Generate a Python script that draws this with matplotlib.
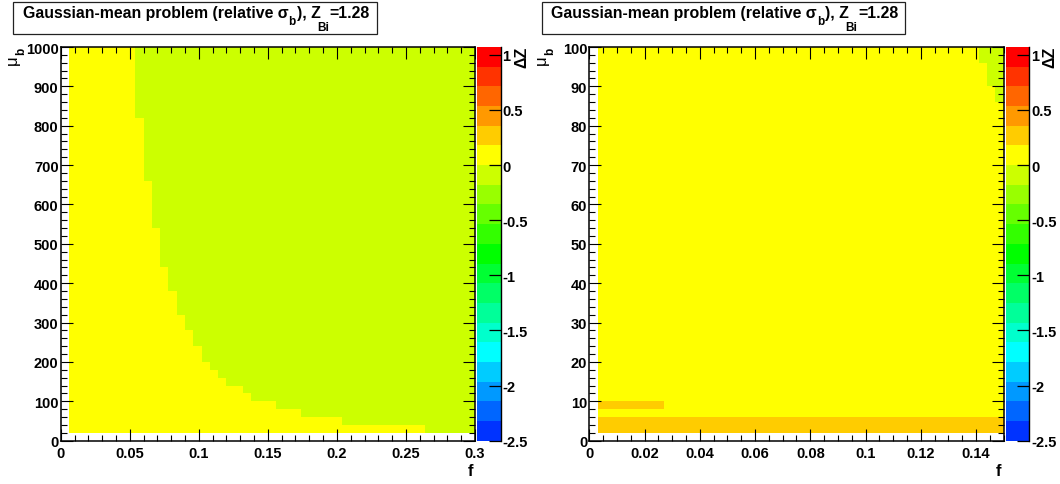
import numpy as np
import matplotlib
matplotlib.use("Agg")
import matplotlib.pyplot as plt
from matplotlib.colors import ListedColormap, BoundaryNorm
from matplotlib.patches import Rectangle
from matplotlib.lines import Line2D
from matplotlib.ticker import MultipleLocator, FixedLocator, FuncFormatter

plt.rcParams['font.family'] = ['Liberation Sans', 'DejaVu Sans']

# ---------------- colour scale (20 contour levels) ----------------
palette = ["#0033ff", "#0066ff", "#0099ff", "#00ccff", "#00ffff",
           "#00ffcc", "#00ff99", "#00ff66", "#00ff33", "#00ff00",
           "#33ff00", "#66ff00", "#99ff00", "#ccff00", "#ffff00",
           "#ffcc00", "#ff9900", "#ff6600", "#ff3300", "#ff0000"]
z_min, z_max = -2.5, 1.0714
cbar_ticks = [-2.5, -2, -1.5, -1, -0.5, 0, 0.5, 1]

title_main = "Gaussian-mean problem (relative σ"
title_sub1 = "b"
title_mid = "), Z"
title_sub2 = "Bi"
title_end = "=1.28"
x_title = "f"
y_title_main = "μ"
y_title_sub = "b"
z_title = "ΔZ"

# ---------------- left panel: mu_b up to 1000 ----------------
left_f_edges = np.linspace(0.006, 0.3, 50)
left_mu_edges = np.linspace(20, 1000, 50)
left_xticks = [0, 0.05, 0.1, 0.15, 0.2, 0.25, 0.3]
left_yticks = [0, 100, 200, 300, 400, 500, 600, 700, 800, 900, 1000]
# lowest mu_b (per f column) from which Delta Z is negative
left_green_from = ([1000] * 8 +
                   [820, 660, 540, 440, 380, 320, 280, 240, 200, 180, 160,
                    140, 140, 120, 100, 100, 100, 80, 80, 80] +
                   [60] * 5 + [40] * 10 + [20] * 6)
left_dz_pos = 0.08
left_dz_neg = -0.08

# ---------------- right panel: mu_b up to 100 ----------------
right_f_edges = np.linspace(0.003, 0.15, 50)
right_mu_edges = np.linspace(2, 100, 50)
right_xticks = [0, 0.02, 0.04, 0.06, 0.08, 0.1, 0.12, 0.14]
right_yticks = [0, 10, 20, 30, 40, 50, 60, 70, 80, 90, 100]
right_green_from = [100] * 46 + [96, 90, 86]
right_orange_below = 6
right_orange_strip_mu = (8, 10)
right_orange_strip_fmax = 0.027
right_dz_pos = 0.08
right_dz_orange = 0.25
right_dz_neg = -0.08

# ---------------- build cell values ----------------
def centers(e):
    return 0.5 * (e[1:] + e[:-1])

lfc, lmc = centers(left_f_edges), centers(left_mu_edges)
Z_left = np.where(lmc[:, None] > np.array(left_green_from)[None, :],
                  left_dz_neg, left_dz_pos)

rfc, rmc = centers(right_f_edges), centers(right_mu_edges)
Z_right = np.full((len(rmc), len(rfc)), right_dz_pos)
Z_right[rmc < right_orange_below, :] = right_dz_orange
strip = (rmc > right_orange_strip_mu[0]) & (rmc < right_orange_strip_mu[1])
Z_right[np.ix_(strip, rfc < right_orange_strip_fmax)] = right_dz_orange
Z_right[rmc[:, None] > np.array(right_green_from)[None, :]] = right_dz_neg

# ---------------- figure ----------------
W, H = 1060, 485
fig = plt.figure(figsize=(W / 100, H / 100), dpi=100)
fig.patch.set_facecolor("white")
cmap = ListedColormap(palette)
norm = BoundaryNorm(np.linspace(z_min, z_max, len(palette) + 1), cmap.N)

FS = 10.5
fmt = FuncFormatter(lambda v, p: "%g" % round(v, 6))


def rect(x0, ytop, x1, ybot):
    return [x0 / W, 1 - ybot / H, (x1 - x0) / W, (ybot - ytop) / H]


def chain_text(pieces, x, ybase, renderer):
    for txt, size, dy, gap in pieces:
        x += gap
        t = fig.text(x / W, 1 - (ybase + dy) / H, txt, fontsize=size,
                     fontweight="bold", ha="left", va="baseline")
        bb = t.get_window_extent(renderer)
        x = bb.x1


def panel(dx, fe, me, Z, xlim, ylim, xticks, yticks, xminor, yminor):
    ax = fig.add_axes(rect(60.7 + dx, 48.0, 475.0 + dx, 441.7))
    mesh = ax.pcolormesh(fe, me, Z, cmap=cmap, norm=norm, shading="flat",
                         edgecolors="none", antialiased=False)
    ax.set_xlim(*xlim)
    ax.set_ylim(*ylim)
    ax.xaxis.set_major_locator(FixedLocator(xticks))
    ax.yaxis.set_major_locator(FixedLocator(yticks))
    ax.xaxis.set_minor_locator(MultipleLocator(xminor))
    ax.yaxis.set_minor_locator(MultipleLocator(yminor))
    ax.xaxis.set_major_formatter(fmt)
    ax.yaxis.set_major_formatter(fmt)
    ax.tick_params(which="both", direction="in", top=True, right=True,
                   width=0.8, color="black")
    ax.tick_params(which="major", length=8.6)
    ax.tick_params(which="minor", length=4.3)
    ax.tick_params(axis="x", which="major", pad=3.5)
    ax.tick_params(axis="y", which="major", pad=1.5)
    for lab in ax.get_xticklabels() + ax.get_yticklabels():
        lab.set_fontsize(FS)
        lab.set_fontweight("bold")
    for s in ax.spines.values():
        s.set_linewidth(1.1)

    cax = fig.add_axes(rect(477.0 + dx, 48.0, 500.7 + dx, 441.7))
    cb = fig.colorbar(mesh, cax=cax, ticks=cbar_ticks)
    cb.outline.set_visible(False)
    cb.minorticks_off()
    cax.yaxis.set_major_formatter(fmt)
    cax.tick_params(direction="in", length=8.6, width=0.9, pad=1.2,
                    right=True, left=False, color="black")
    for lab in cax.get_yticklabels():
        lab.set_fontsize(FS)
        lab.set_fontweight("bold")
    cax.add_line(Line2D([1, 1], [0, 1], transform=cax.transAxes,
                        color="black", lw=1.0, clip_on=False))

    # title box
    fig.patches.append(Rectangle(((13.3 + dx) / W, 1 - 35.0 / H),
                                 363.4 / W, 32.3 / H,
                                 transform=fig.transFigure, figure=fig,
                                 facecolor="white", edgecolor="#222222",
                                 lw=0.9))
    # axis titles
    fig.text((470 + dx) / W, 1 - 472 / H, x_title, fontsize=12,
             fontweight="bold", ha="center", va="center")
    fig.text((12.5 + dx) / W, 1 - 60 / H, y_title_main, fontsize=12,
             rotation=90, ha="center", va="center")
    fig.text((21.5 + dx) / W, 1 - 51.5 / H, y_title_sub, fontsize=8.5,
             fontweight="bold", rotation=90, ha="center", va="center")
    fig.text((521.5 + dx) / W, 1 - 47 / H, z_title, fontsize=11.5,
             fontweight="bold", rotation=90, ha="center", va="top")
    return ax


panel(0, left_f_edges, left_mu_edges, Z_left, (0, 0.3), (0, 1000),
      left_xticks, left_yticks, 0.01, 20)
panel(528.6, right_f_edges, right_mu_edges, Z_right, (0, 0.15), (0, 100),
      right_xticks, right_yticks, 0.005, 2)

renderer = fig.canvas.get_renderer()
for dx in (0, 528.6):
    chain_text([(title_main, 11.4, 0, 0), (title_sub1, 8.5, 6.7, 0.3),
                (title_mid, 11.4, 0, 1.0), (title_sub2, 8.5, 13.0, -4.0),
                (title_end, 11.4, 0, 1.0)], 22.7 + dx, 18.3, renderer)

fig.savefig("out.png", dpi=100)
